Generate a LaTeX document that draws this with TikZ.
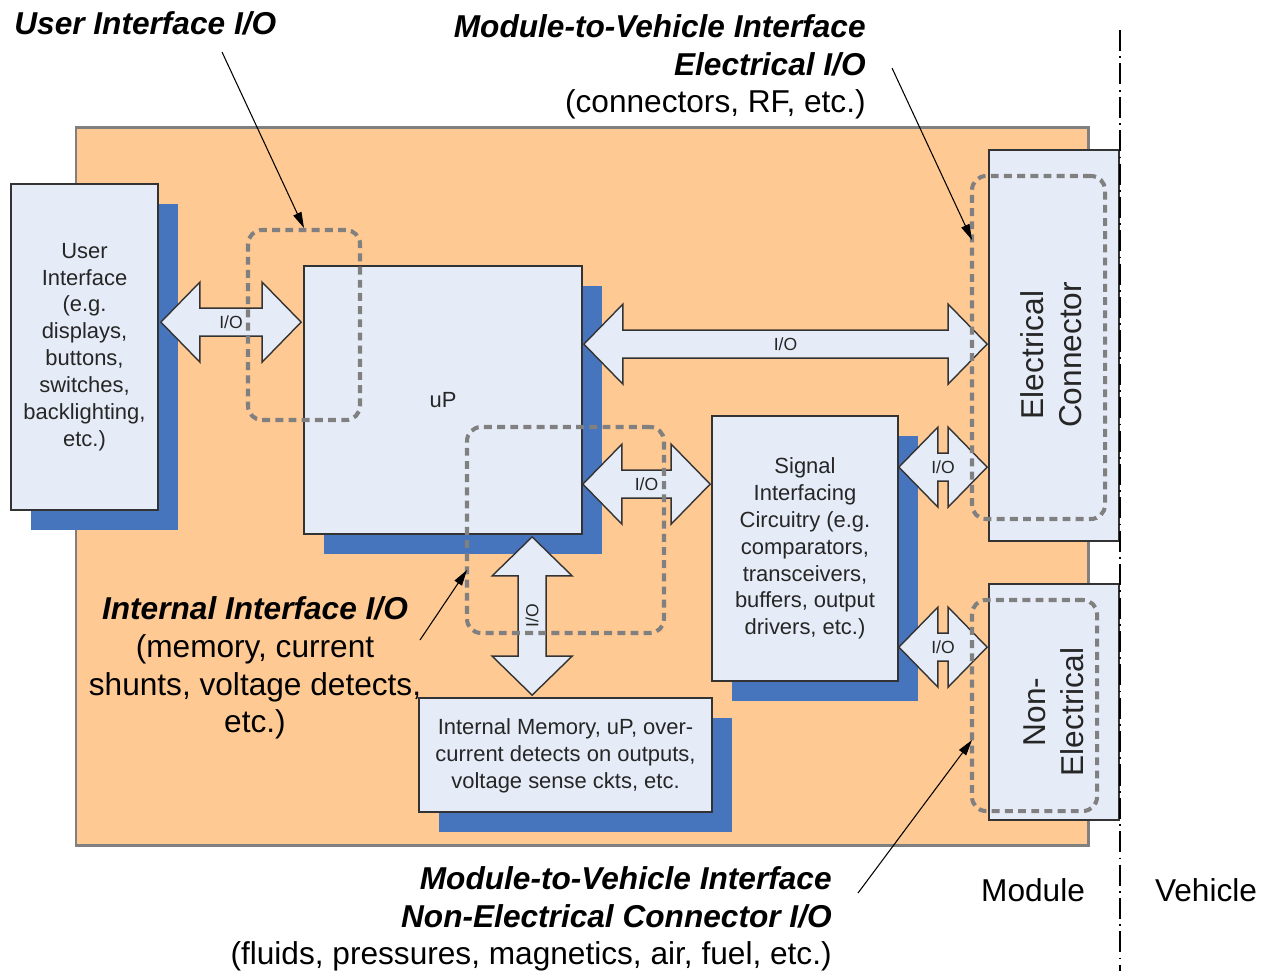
\documentclass[tikz,border=0pt]{standalone}
\usepackage{fontspec}
\setmainfont{Liberation Sans}
\usetikzlibrary{positioning,
        shadows,
        arrows.meta,
        calc,
        fit}

\definecolor{modfill}{RGB}{255,201,147}
\definecolor{boxfill}{RGB}{230,236,247}
\definecolor{shadeblue}{RGB}{70,117,190}
\definecolor{dashgray}{RGB}{128,128,128}

\tikzset{
  blk/.style={draw=black!80, line width=1pt, fill=boxfill, inner sep=0pt},
  shadedblk/.style={blk, drop shadow={shadow xshift=0.4cm, shadow yshift=-0.4cm,
    fill=shadeblue, opacity=1}},
  blktext/.style={inner sep=0pt, align=center, text=black!85,
    font=\fontsize{12.5}{15.3}\selectfont},
  iobody/.style={draw=black!80, line width=0.8pt, fill=boxfill, line join=miter},
  iolabel/.style={inner sep=1pt, text=black!85, font=\fontsize{10}{12}\selectfont},
  ioframe/.style={draw=dashgray, line width=2.3pt, dash pattern=on 4.5pt off 3pt,
    rounded corners=8pt, inner sep=0pt},
  pointer/.style={-{Triangle[length=9pt,width=5pt]}, line width=0.6pt},
  bigtext/.style={inner sep=0pt, font=\fontsize{18}{21.5}\selectfont}
}

% horizontal double arrow between two tips, with a label in the middle
\newcommand{\ioh}[3]{%
  \coordinate (ioA) at (#1);
  \coordinate (ioB) at (#2);
  \draw[iobody] (ioA) -- ++(39,-40) -- ++(0,26) -- ($(ioB)+(-39,-14)$) -- ++(0,-26)
    -- (ioB) -- ++(-39,40) -- ++(0,-26) -- ($(ioA)+(39,14)$) -- ++(0,26) -- cycle;
  \node[iolabel] at ($(ioA)!0.5!(ioB)$) {#3};}

\newcommand{\bfit}[1]{\textbf{\textit{#1}}}

\begin{document}
\begin{tikzpicture}[x=0.02cm, y=-0.02cm]
    \useasboundingbox (0,0) rectangle (1266,971);

    % module outline
    \node [draw=black!50, line width=1.7pt, fill=modfill, inner sep=0pt,
           fit={(76,127) (1088,845)}] (module) {};

    % blocks
    \node [shadedblk, fit={(11,184) (158,510)}] (ui) {};
    \node [shadedblk, fit={(304,266) (582,534)}] (up) {};
    \node [shadedblk, fit={(712,416) (898,681)}] (sig) {};
    \node [shadedblk, fit={(419,698) (712,812)}] (mem) {};
    \node [blk, fit={(989,150) (1119,541)}] (elec) {};
    \node [blk, fit={(989,584) (1119,820)}] (nonelec) {};

    \node [blktext] (uitext) at (ui.center)
          {User\\Interface\\(e.g.\\displays,\\buttons,\\switches,\\backlighting,\\etc.)};
    \node [blktext] (uptext) at (up.center) {uP};
    \node [blktext] (sigtext) at (sig.center)
          {Signal\\Interfacing\\Circuitry (e.g.\\comparators,\\transceivers,\\buffers, output\\drivers, etc.)};
    \node [blktext] (memtext) at ($(mem.center)+(0,1)$)
          {Internal Memory, uP, over-\\current detects on outputs,\\voltage sense ckts, etc.};
    \node [bigtext, rotate=90, align=center, text=black!85] (eleclabel) at (1051,355)
          {Electrical\\Connector};
    \node [bigtext, rotate=90, align=center, text=black!85] (noneleclabel) at (1054,712)
          {Non-\\Electrical};

    % I/O arrows
    \ioh{$(ui.north east)+(2,139)$}{$(up.north west)+(-2,57)$}{I/O}
    \ioh{$(up.north east)+(1,79)$}{$(elec.north west)+(-1,195)$}{I/O}
    \ioh{$(up.north east)+(0,219)$}{$(sig.north west)+(-1,69)$}{I/O}
    \ioh{$(sig.north east)+(0,52)$}{$(elec.north west)+(-1,318)$}{I/O}
    \ioh{$(sig.north east)+(0,232)$}{$(nonelec.north west)+(-1,64)$}{I/O}

    % vertical arrow to the memory block
    \coordinate (memA) at ($(up.south west)+(229,2)$);
    \coordinate (memB) at ($(mem.north west)+(114,-2)$);
    \draw [iobody] (memA) -- ++(40,39) -- ++(-26,0) -- ($(memB)+(14,-39)$) -- ++(26,0)
          -- (memB) -- ++(-40,-39) -- ++(26,0) -- ($(memA)+(-14,39)$) -- ++(-26,0) -- cycle;
    \node [iolabel, rotate=90] at ($(memA)!0.5!(memB)$) {I/O};

    % interface regions
    \node [ioframe, fit={(248,230) (360,420)}] (uiio) {};
    \node [ioframe, fit={(467,427) (664,633)}] (intio) {};
    \node [ioframe, fit={(972,176) (1105,519)}] (elecio) {};
    \node [ioframe, fit={(972,600) (1097,811)}] (nonelecio) {};

    % module / vehicle boundary
    \coordinate (bndtop) at (1120,30);
    \coordinate (bndbot) at (1120,971);
    \draw [line width=0.9pt, dash pattern=on 12pt off 3pt on 1pt off 3pt] (bndtop) -- (bndbot);
    \node [bigtext] (modtxt) at (1033,890) {Module};
    \node [bigtext] (vehtxt) at (1206,890) {Vehicle};

    % callouts
    \node [bigtext, anchor=west] (uinote) at (14,23) {\bfit{User Interface I/O}};
    \node [bigtext, anchor=east, align=right] (elecnote) at (866,67)
          {\bfit{Module-to-Vehicle Interface}\\\bfit{Electrical I/O}\\(connectors, RF, etc.)};
    \node [bigtext, align=center] (intnote) at (255,668)
          {\bfit{Internal Interface I/O}\\(memory, current\\shunts, voltage detects,\\etc.)};
    \node [bigtext, anchor=east, align=right] (nonelecnote) at (832,919)
          {\bfit{Module-to-Vehicle Interface}\\\bfit{Non-Electrical Connector I/O}\\(fluids, pressures, magnetics, air, fuel, etc.)};

    \coordinate (uiptr) at (222,52);
    \coordinate (elecptr) at (892,68);
    \coordinate (elecend) at (972,240);
    \coordinate (intptr) at (420,640);
    \coordinate (intend) at (467,570);
    \coordinate (nonelecptr) at (858,893);
    \coordinate (nonelecend) at (972,740);
    \draw [pointer] (uiptr) -- (uiio.north);
    \draw [pointer] (elecptr) -- (elecend);
    \draw [pointer] (intptr) -- (intend);
    \draw [pointer] (nonelecptr) -- (nonelecend);
\end{tikzpicture}
\end{document}
